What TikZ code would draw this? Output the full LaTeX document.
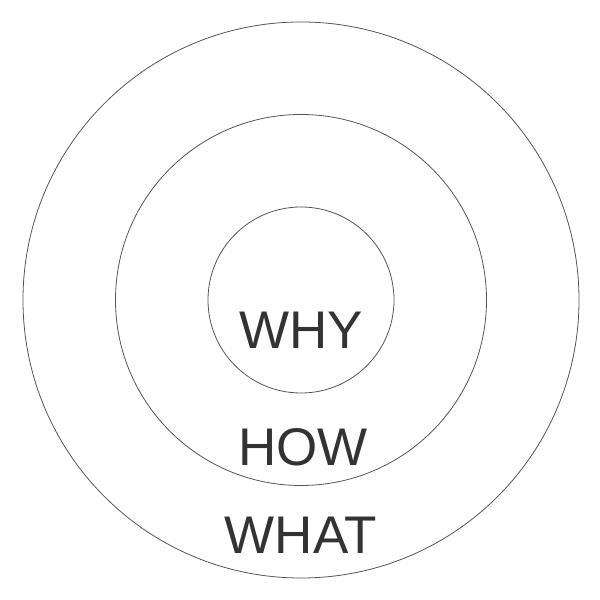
\documentclass[tikz,border=0pt]{standalone}
\usepackage{fontspec}
\setmainfont{Liberation Sans}
\definecolor{ringgray}{HTML}{555555}
\definecolor{textgray}{HTML}{333333}
\tikzset{ring/.style={circle, draw=ringgray, line width=0.8bp, inner sep=0pt},
         word/.style={anchor=base, text=textgray, font=\fontsize{53bp}{60bp}\selectfont}}
\begin{document}
\begin{tikzpicture}[x=1bp,y=1bp]
            \useasboundingbox (0,0) rectangle (600,600);
            \coordinate (c) at (301,300);

            \node[ring, minimum size=556bp] (what) at (c) {};
            \node[ring, minimum size=371bp] (how) at (c) {};
            \node[ring, minimum size=186bp] (why) at (c) {};

            \node[word] (whytext) at (301,251) {WHY};
            \node[word] (howtext) at (303,134) {HOW};
            \node[word] (whattext) at (301,46) {WHAT};
        \end{tikzpicture}
\end{document}
